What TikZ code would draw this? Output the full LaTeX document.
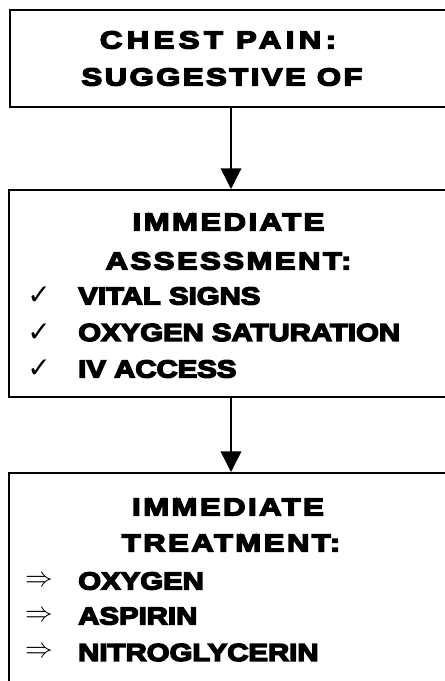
\documentclass[tikz,border=0pt]{standalone}
\usepackage{fontspec}
\usetikzlibrary{arrows.meta}
% heavy grotesque faces for the flowchart text
\newfontfamily\heavy{Liberation Sans}[FakeBold=6,FakeStretch=1.19]
\newfontfamily\heavyhead{Liberation Sans}[FakeBold=6,FakeStretch=1.26,LetterSpace=10]
\newfontfamily\symfont{DejaVu Sans}
\begin{document}
\begin{tikzpicture}[x=0.75pt,y=-0.75pt,
  stagebox/.style={draw=black,line width=1.5pt,rectangle,inner sep=0pt},
  headtext/.style={inner sep=0pt,font=\heavyhead\bfseries\fontsize{18.5pt}{22pt}\selectfont},
  itemtext/.style={inner sep=0pt,anchor=west,font=\heavy\bfseries\fontsize{18.5pt}{22pt}\selectfont},
  tick/.style={inner sep=0pt,font=\symfont\fontsize{21pt}{24pt}\selectfont},
  dblarrow/.style={inner sep=0pt,font=\fontsize{22pt}{24pt}\selectfont},
  flow/.style={line width=1.1pt,-{Triangle[length=15.5pt,width=15.5pt]}}]
\useasboundingbox (0,0) rectangle (445,681);
\clip (0,0) rectangle (445,681);

% the three stages
\node[stagebox,minimum width=442*0.75pt,minimum height=97*0.75pt] (chest) at (231,58.5) {};
\node[stagebox,minimum width=444*0.75pt,minimum height=207*0.75pt] (assess) at (231,293.5) {};
\node[stagebox,minimum width=444*0.75pt,minimum height=220*0.75pt] (treat) at (231,583) {};

% stage 1
\node[headtext] (c1) at (218,40) {\addfontfeature{LetterSpace=18}CHEST PAIN:};
\node[headtext] (c2) at (222,77) {SUGGESTIVE OF};

% stage 2
\node[headtext] (a1) at (228.5,222) {IMMEDIATE};
\node[headtext] (a2) at (228.5,261) {ASSESSMENT:};
\node[tick] (at1) at (39,296) {✓};
\node[tick] (at2) at (39,332.5) {✓};
\node[tick] (at3) at (39,369) {✓};
\node[itemtext] (ai1) at (78,296) {VITAL SIGNS};
\node[itemtext] (ai2) at (78,332.5) {OXYGEN SATURATION};
\node[itemtext] (ai3) at (78,369) {IV ACCESS};

% stage 3
\node[headtext] (t1) at (228,507) {IMMEDIATE};
\node[headtext] (t2) at (231,543) {TREATMENT:};
\node[dblarrow] (tr1) at (39,581) {$\Rightarrow$};
\node[dblarrow] (tr2) at (39,616) {$\Rightarrow$};
\node[dblarrow] (tr3) at (39,652.5) {$\Rightarrow$};
\node[itemtext] (ti1) at (78,581) {OXYGEN};
\node[itemtext] (ti2) at (78,616) {ASPIRIN};
\node[itemtext] (ti3) at (78,652.5) {NITROGLYCERIN};

% connectors
\draw[flow] (chest.south) -- (assess.north);
\draw[flow] (assess.south) -- (treat.north);
\end{tikzpicture}
\end{document}
